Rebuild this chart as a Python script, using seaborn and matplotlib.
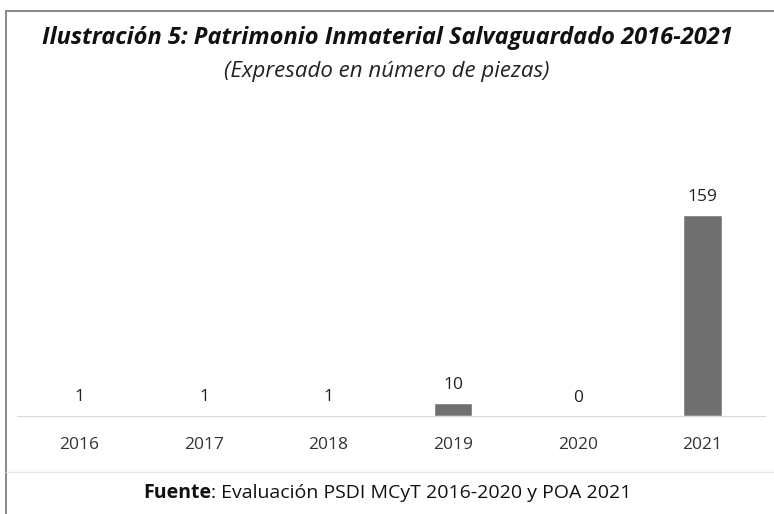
import pandas as pd
import numpy as np
import matplotlib.pyplot as plt
import seaborn as sns
from matplotlib.lines import Line2D

# Data
years = ['2016', '2017', '2018', '2019', '2020', '2021']
piezas = [1, 1, 1, 10, 0, 159]

df = pd.DataFrame({'Año': years, 'Piezas': piezas})

sns.set_style('white')
plt.rcParams['font.family'] = ['Open Sans', 'DejaVu Sans']

fig = plt.figure(figsize=(7.74, 5.14), dpi=100)
ax = fig.add_axes([0.022, 0.191, 0.966, 0.556])

sns.barplot(data=df, x='Año', y='Piezas', color='#707070', width=0.31,
            saturation=1, ax=ax)

ax.set_ylim(0, 226)
ax.set_xlim(-0.5, 5.5)
for i, v in enumerate(piezas):
    ax.annotate(str(v), (i, v), xytext=(0, 7), textcoords='offset points',
                ha='center', va='bottom', fontsize=12.5, color='#222222')

sns.despine(ax=ax, left=True, top=True, right=True)
ax.spines['bottom'].set_color('#d9d9d9')
ax.set_yticks([])
ax.set_xlabel('')
ax.set_ylabel('')
ax.tick_params(axis='x', length=0, labelsize=12.5, colors='#333333', pad=15)

# titles
fig.text(0.5, 0.926, 'Ilustración 5: Patrimonio Inmaterial Salvaguardado 2016-2021',
         ha='center', va='center', fontsize=17, fontweight='bold', style='italic',
         color='#111111')
fig.text(0.5, 0.86, '(Expresado en número de piezas)', ha='center', va='center',
         fontsize=16, style='italic', color='#222222')

# source line: bold "Fuente" followed by regular text, centred as a whole
renderer = fig.canvas.get_renderer()
t_bold = fig.text(0, 0.041, 'Fuente', ha='left', va='center', fontsize=14,
                  fontweight='bold', color='#111111')
t_rest = fig.text(0, 0.041, ': Evaluación PSDI MCyT 2016-2020 y POA 2021',
                  ha='left', va='center', fontsize=14, color='#111111')
w_bold = t_bold.get_window_extent(renderer).width / fig.bbox.width
w_rest = t_rest.get_window_extent(renderer).width / fig.bbox.width
x0 = 0.5 - (w_bold + w_rest) / 2
t_bold.set_x(x0)
t_rest.set_x(x0 + w_bold)

# frame lines
fig.add_artist(Line2D([0.008, 1.0], [0.978, 0.978], color='#8c8c8c', lw=1.5))
fig.add_artist(Line2D([0.008, 0.008], [0.0, 0.978], color='#8c8c8c', lw=1.5))
fig.add_artist(Line2D([0.008, 1.0], [0.082, 0.082], color='#e6e6e6', lw=1))

fig.savefig('out.png', dpi=100)
